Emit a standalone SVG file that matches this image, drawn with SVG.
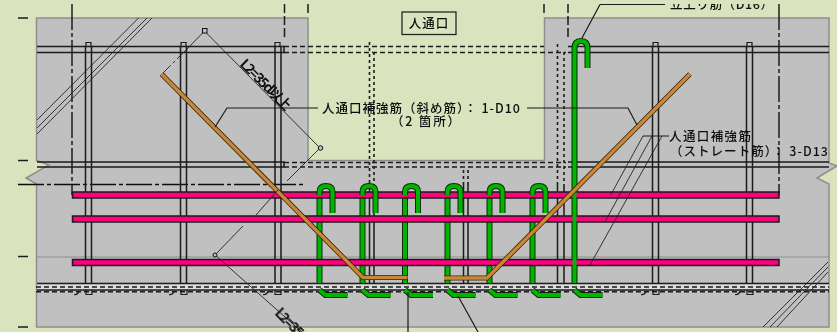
<svg xmlns="http://www.w3.org/2000/svg" xmlns:xlink="http://www.w3.org/1999/xlink" width="837" height="332" viewBox="0 0 837 332">
<style>
.k{fill:none;stroke:#1a1a1a;stroke-width:1.2}
.b{fill:none;stroke:#1a1a1a;stroke-width:1.5}
.d{fill:none;stroke:#1a1a1a;stroke-width:1.4;stroke-dasharray:5 3}
.o{fill:none;stroke:#1a1a1a;stroke-width:1.6;stroke-dasharray:3 3}
.c{fill:none;stroke:#111;stroke-width:1.4;stroke-dasharray:26 3 4 3}
.t{fill:none;stroke:#222;stroke-width:.9}
.gl{fill:none;stroke:#0c2a0c;stroke-width:6}
.g{fill:none;stroke:#00b400;stroke-width:4}
.bo{fill:none;stroke:#3a2408;stroke-width:5}
.br{fill:none;stroke:#c8883a;stroke-width:3.4}
.r{fill:#ff0080;stroke:#1a1a1a;stroke-width:1.5}
text{font-family:"Noto Sans CJK JP","Liberation Sans",sans-serif;font-size:12.5px;font-weight:500;fill:#111}
.l2{font-size:14px;font-weight:700}
</style>
<defs>
<g id="barV"><path class="b" d="M0 46V283M6 46V283"/></g>
<g id="cap"><path class="k" d="M0 46V42.500H5V46M0 290V294.500H6V290M-12 294.500Q-8 295 -7 291"/></g>
<path id="legA" d="M0 283V195"/>
<path id="hook" d="M0 195V192Q0 186 6.500 186Q13 186 13 192V213"/>
<path id="foot" d="M0 290L6 295H28"/>
<filter id="soft" x="0" y="0" width="100%" height="100%"><feGaussianBlur stdDeviation="0.35"/></filter>
</defs>
<rect width="837" height="332" fill="#d9e3bd"/>
<g filter="url(#soft)">
<g id="concrete"><path d="M36.500 18H308V160.500H544.500V18H829V163L837 166L817 178L829 184V327H36.500V184L26 178L49 165L36.500 160.500Z" fill="#c0c0c0" stroke="#8e8e8e" stroke-width="1.500"/>
<path d="M37 257H829" stroke="#8e8e8e" stroke-width="1" fill="none"/>
<rect x="37" y="284" width="792" height="6" fill="#dcdcdc"/></g>
<g id="outline-ticks">
<path class="b" d="M18 18H28M18 160.500H28M18 256.500H28M18 327H28M308 4V13M544 4V13"/>
<path class="c" d="M72 4V195M779 4V195M18 184.500H304"/>
<path class="b" d="M284.500 4V37M568 4V37" stroke-dasharray="9 3"/>
</g>
<g id="bars">
<path class="b" d="M37 46.500H284V52.500H37M568 46.500H829M568 52.500H829M37 162H284V167H37M568 162H829M568 167H829M37 283.500H829M37 290H829"/>
<path class="d" d="M284 46.500H544M284 52.500H566M284 162.500H566M284 167H566M36 287H829M36 291.800H829"/>
<use xlink:href="#barV" x="85.500"/><use xlink:href="#barV" x="180.500"/><use xlink:href="#barV" x="275"/><use xlink:href="#barV" x="652.500"/><use xlink:href="#barV" x="746.500"/>
<use xlink:href="#cap" x="86"/><use xlink:href="#cap" x="181"/><use xlink:href="#cap" x="275"/><use xlink:href="#cap" x="653"/><use xlink:href="#cap" x="747"/>
<path class="o" d="M369.500 42V185M374 52V185M557.500 44V185M564 52V185M463.500 170V185M468 170V185"/>
<path class="b" d="M369.500 185V283M374 185V283M463.500 185V283M468 185V283M557.500 185V283M564 185V283"/>
</g>
<g id="hatch"><path class="t" d="M138.500 18L37 120M147 18L37 128M152 18L37 134M828 262L763 327M828 267L770 327M828 272L777 327"/></g>
<g id="stirrup-legs">
<g class="gl"><use xlink:href="#legA" x="319.500"/><use xlink:href="#legA" x="362.500"/><use xlink:href="#legA" x="405"/><use xlink:href="#legA" x="447.500"/><use xlink:href="#legA" x="489.500"/><use xlink:href="#legA" x="532.500"/><path d="M574.500 283V52"/></g>
<g class="g"><use xlink:href="#legA" x="319.500"/><use xlink:href="#legA" x="362.500"/><use xlink:href="#legA" x="405"/><use xlink:href="#legA" x="447.500"/><use xlink:href="#legA" x="489.500"/><use xlink:href="#legA" x="532.500"/></g>
</g>
<g id="main-bars"><rect class="r" x="72.500" y="192" width="706.500" height="6"/><rect class="r" x="72.500" y="216" width="706.500" height="6"/><rect class="r" x="72.500" y="259.500" width="706.500" height="6"/></g>
<path class="g" d="M574.500 283V52"/>
<g id="stirrups">
<g class="gl"><use xlink:href="#hook" x="319.500"/><use xlink:href="#hook" x="362.500"/><use xlink:href="#hook" x="405"/><use xlink:href="#hook" x="447.500"/><use xlink:href="#hook" x="489.500"/><use xlink:href="#hook" x="532.500"/><use xlink:href="#foot" x="319.500"/><use xlink:href="#foot" x="362.500"/><use xlink:href="#foot" x="405"/><use xlink:href="#foot" x="447.500"/><use xlink:href="#foot" x="489.500"/><use xlink:href="#foot" x="532.500"/><use xlink:href="#foot" x="574.500"/><path d="M574.500 52V48Q574.500 41 581 41Q587.500 41 587.500 48V68"/></g>
<g class="g"><use xlink:href="#hook" x="319.500"/><use xlink:href="#hook" x="362.500"/><use xlink:href="#hook" x="405"/><use xlink:href="#hook" x="447.500"/><use xlink:href="#hook" x="489.500"/><use xlink:href="#hook" x="532.500"/><use xlink:href="#foot" x="319.500"/><use xlink:href="#foot" x="362.500"/><use xlink:href="#foot" x="405"/><use xlink:href="#foot" x="447.500"/><use xlink:href="#foot" x="489.500"/><use xlink:href="#foot" x="532.500"/><use xlink:href="#foot" x="574.500"/><path d="M574.500 52V48Q574.500 41 581 41Q587.500 41 587.500 48V68"/></g>
</g>
<g id="diagonal-bars">
<path class="bo" d="M161.500 74L363 277.500H407.500M690 74L487 278H444"/>
<path class="br" d="M161.500 74L363 277.500H407.500M690 74L487 278H444"/>
</g>
<g id="connectors">
<path class="t" d="M204.500 31L320 148M204.500 31L187 49M215 255L302 332M320 148L287 181M278 190L256 215M243 226L215 255"/>
<path class="t" stroke-dasharray="14 3 3 3" d="M187 49L163 73"/>
<rect x="202.500" y="28.500" width="4.500" height="4.500" fill="#c0c0c0" stroke="#111"/>
<circle cx="320.500" cy="148" r="2.300" fill="#c0c0c0" stroke="#111"/>
<circle cx="215" cy="255" r="2" fill="#c0c0c0" stroke="#111"/>
<path class="k" d="M215 127L227 108H318M527 108H628L637 125M600 4.500H665M600 4.500L582 38M643 136H669M458 296L478 332M408 292V332"/>
<path class="t" d="M643 136L610.700 195M652 136L605 221.700M662 136L590 265"/>
</g>
<g id="labels">
<g id="opening-box"><rect x="402" y="12" width="54" height="22.500" fill="none" stroke="#222" stroke-width="1.300"/><text x="429" y="28" text-anchor="middle" letter-spacing="1">人通口</text></g>
<text x="670" y="9" textLength="103">立上り筋（D16）</text>
<text x="322" y="113" textLength="198" lengthAdjust="spacing">人通口補強筋（斜め筋）： 1-D10</text>
<text x="391" y="126" textLength="69">（2 箇所）</text>
<text x="669" y="141" textLength="82">人通口補強筋</text>
<text x="670" y="156" textLength="158">（ストレート筋）： 3-D13</text>
<text class="l2" transform="translate(239 65) rotate(45)" textLength="66">L2=35d以上</text>
<text class="l2" transform="translate(274 314) rotate(45)" textLength="66">L2=35d以上</text>
</g>
</g>
<rect id="top-crop" width="837" height="4" fill="#d9e3bd"/>
</svg>
